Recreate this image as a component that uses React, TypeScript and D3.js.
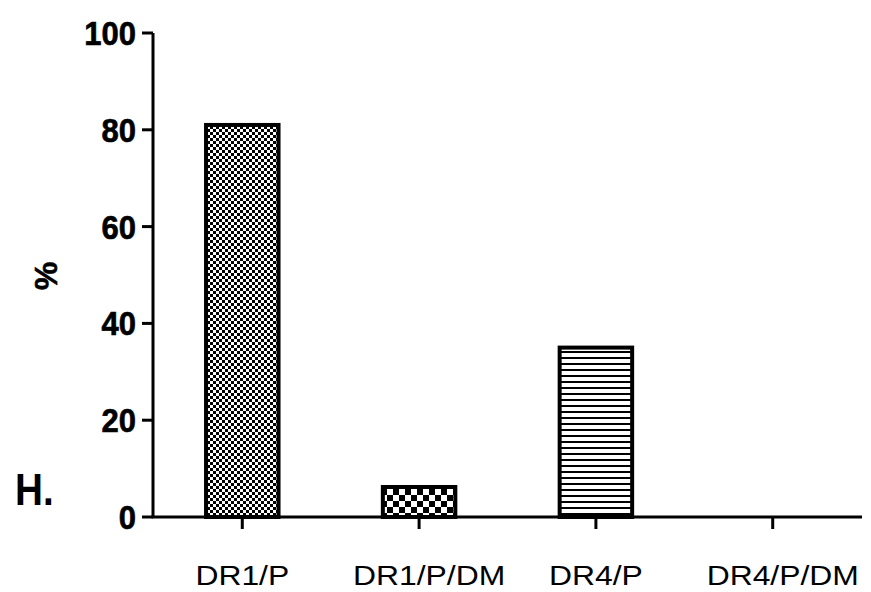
import * as d3 from "d3";

const categories = ["DR1/P", "DR1/P/DM", "DR4/P", "DR4/P/DM"];
const values = [81, 6.2, 35, 0];
const patterns = ["checkFine", "checkBig", "hlines", "none"];
const yTicks = [0, 20, 40, 60, 80, 100];

const W = 871;
const H = 592;
const margin = { top: 33, right: 9, bottom: 75, left: 153 };

export default function App() {
  const innerW = W - margin.left - margin.right;
  const innerH = H - margin.top - margin.bottom;

  const x = d3.scaleBand().domain(categories).range([0, innerW]).paddingInner(0.59).paddingOuter(0.3);
  const y = d3.scaleLinear().domain([0, 100]).range([innerH, 0]);

  const font = "Arial, 'Liberation Sans', sans-serif";

  return (
    <svg width={W} height={H} style={{ position: "absolute", left: 0, top: 0, background: "#fff" }}>
      <defs>
        <pattern id="checkFine" width={6} height={6} patternUnits="userSpaceOnUse">
          <rect width={6} height={6} fill="#fff" />
          <rect width={3} height={3} fill="#000" />
          <rect x={3} y={3} width={3} height={3} fill="#000" />
        </pattern>
        <pattern id="checkBig" width={12} height={12} patternUnits="userSpaceOnUse">
          <rect width={12} height={12} fill="#fff" />
          <rect width={6} height={6} fill="#000" />
          <rect x={6} y={6} width={6} height={6} fill="#000" />
        </pattern>
        <pattern id="hlines" width={8} height={6} patternUnits="userSpaceOnUse">
          <rect width={8} height={6} fill="#fff" />
          <rect y={0} width={8} height={2} fill="#000" />
        </pattern>
      </defs>
      <g transform={`translate(${margin.left},${margin.top})`}>
        {/* bars */}
        {categories.map((c, i) => {
          const v = values[i];
          if (v <= 0) return null;
          return (
            <rect
              key={c}
              x={x(c)}
              y={y(v)}
              width={x.bandwidth()}
              height={innerH - y(v)}
              fill={`url(#${patterns[i]})`}
              stroke="#000"
              strokeWidth={4}
            />
          );
        })}
        {/* y axis */}
        <line x1={0} x2={0} y1={0} y2={innerH} stroke="#000" strokeWidth={3} />
        {yTicks.map((t) => (
          <g key={t} transform={`translate(0,${y(t)})`}>
            <line x1={-11} x2={0} stroke="#000" strokeWidth={3} />
            <text
              transform="translate(-17,0) scale(1,1.08)"
              dy="0.36em"
              textAnchor="end"
              fontFamily={font}
              fontWeight="bold"
              fontSize={31}
              stroke="#000"
              strokeWidth={0.6}
            >
              {t}
            </text>
          </g>
        ))}
        {/* x axis */}
        <line x1={-1.5} x2={innerW} y1={innerH} y2={innerH} stroke="#000" strokeWidth={3} />
        {categories.map((c, i) => {
          const cx = (x(c) ?? 0) + x.bandwidth() / 2;
          return (
            <g key={c} transform={`translate(${cx},${innerH})`}>
              <line y1={0} y2={12} stroke="#000" strokeWidth={3} />
              <text
                transform={`translate(${i % 2 === 1 ? 10 : 0},68) scale(1.18,1)`}
                textAnchor="middle"
                fontFamily={font}
                fontSize={27}
              >
                {c}
              </text>
            </g>
          );
        })}
      </g>
      {/* y label */}
      <text
        transform="translate(57,276) rotate(-90)"
        textAnchor="middle"
        fontFamily={font}
        fontWeight="bold"
        fontSize={32}
        stroke="#000"
        strokeWidth={0.6}
      >
        %
      </text>
      <text transform="translate(15,505) scale(0.86,1)" fontFamily={font} fontWeight="bold" fontSize={45}>
        H.
      </text>
    </svg>
  );
}
